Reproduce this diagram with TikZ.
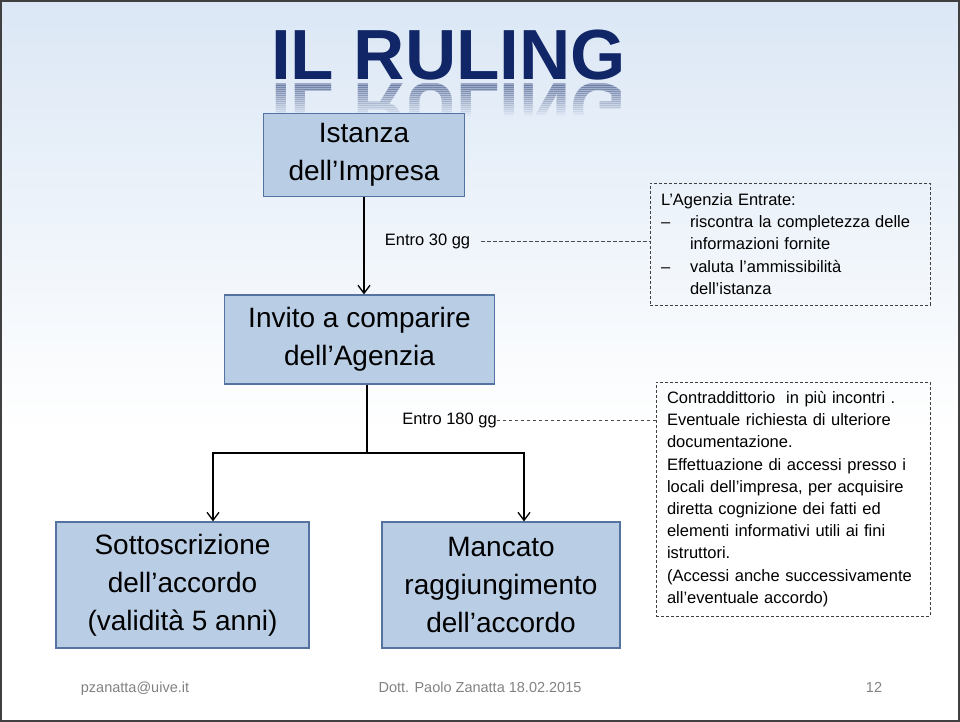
\documentclass[tikz,border=0pt]{standalone}
\usepackage{fontspec}
\setmainfont{Liberation Sans}
\usetikzlibrary{arrows.meta,positioning}
\definecolor{boxfill}{RGB}{185,205,229}
\definecolor{boxline}{RGB}{85,115,160}
\definecolor{titleblue}{RGB}{16,38,102}
\definecolor{bgtop}{RGB}{219,231,245}
\definecolor{footgray}{RGB}{130,130,130}
\tikzset{
    basic/.style      = {rectangle, align=center, inner sep=0pt},
    step entry/.style = {basic, draw=boxline, fill=boxfill, line width=1.2pt, font=\fontsize{28}{38}\selectfont},
    note entry/.style = {basic, draw=black!75, line width=0.9pt, dash pattern=on 3pt off 2pt, align=left, inner xsep=11pt, font=\fontsize{16.5}{22.2}\selectfont},
    gap label/.style  = {basic, font=\fontsize{16.5}{20}\selectfont},
    foot/.style       = {basic, anchor=base, text=footgray, font=\fontsize{14.5}{17}\selectfont},
    headline/.style   = {basic, text=titleblue, font=\fontsize{71}{76}\selectfont\bfseries}
}

\begin{document}
\begin{tikzpicture}[x=1pt, y=-1pt,
	>={Straight Barb[length=8pt,width=12pt]},
	flow/.style={draw, line width=1.3pt, ->},
	gap line/.style={draw=black!70, line width=0.9pt, dash pattern=on 3.5pt off 2.5pt}]
	% slide background
	\shade[top color=bgtop, bottom color=white] (0,0) rectangle (960,430);
	\fill[white] (0,430) rectangle (960,722);
	\draw[black!75, line width=2pt] (1,1) rectangle (959,721);

	% title with its reflection
	\node[headline, anchor=base west] (title) at (271,80) {IL RULING};
	\foreach \i [evaluate=\i as \op using 0.34-0.021*\i] in {0,...,15}{
		\begin{scope}
			\clip (260,84+2*\i) rectangle (640,86+2*\i);
			\node[headline, anchor=base west, yscale=-1, transform shape, text opacity=\op] (mirror\i) at (271,84) {IL RULING};
		\end{scope}
	}

	% steps
	\node[step entry, minimum width=201pt, minimum height=83pt] (istanza) at (364,155) {Istanza\\dell’Impresa};
	\node[step entry, minimum width=270pt, minimum height=89pt] (invito) at (359.5,339.5) {Invito a comparire\\dell’Agenzia};
	\node[step entry, minimum width=253pt, minimum height=126pt] (sottoscrizione) at (182.5,585) {Sottoscrizione\\dell’accordo\\(validità 5 anni)};
	\node[step entry, minimum width=238pt, minimum height=126pt] (mancato) at (501,585) {Mancato\\raggiungimento\\dell’accordo};

	\draw[flow] (istanza) -- (istanza |- invito.north);
	\coordinate (split) at (367,453);
	\draw[line width=1.3pt] (invito.south -| split) -- (split);
	\draw[flow] (split) -| ([xshift=30.5pt]sottoscrizione.north);
	\draw[flow] (split) -| ([xshift=23pt]mancato.north);

	% time limits and notes
	\node[gap label] (entro30) at (427.5,241) {Entro 30 gg};
	\node[gap label] (entro180) at (449.5,420) {Entro 180 gg};
	\node[note entry, text width=258pt, minimum width=280pt, minimum height=122pt] (agenzia) at (790,244) {L’Agenzia Entrate:\\
		\makebox[29pt][l]{--}riscontra la completezza delle\\
		\hspace*{29pt}informazioni fornite\\
		\makebox[29pt][l]{--}valuta l’ammissibilità\\
		\hspace*{29pt}dell’istanza};
	\node[note entry, text width=252pt, minimum width=274pt, minimum height=234pt] (contraddittorio) at (793,499) {Contraddittorio\ \ in più incontri .\\
		Eventuale richiesta di ulteriore\\
		documentazione.\\
		Effettuazione di accessi presso i\\
		locali dell’impresa, per acquisire\\
		diretta cognizione dei fatti ed\\
		elementi informativi utili ai fini\\
		istruttori.\\
		(Accessi anche successivamente\\
		all’eventuale accordo)};
	\draw[gap line] ([xshift=11pt]entro30.east) -- (entro30.east -| agenzia.west);
	\draw[gap line] (entro180.east) -- (entro180.east -| contraddittorio.west);

	% footer
	\node[foot] (mail) at (135,692) {pzanatta@uive.it};
	\node[foot] (autore) at (480,692) {Dott. Paolo Zanatta 18.02.2015};
	\node[foot] (pagina) at (874,692) {12};
\end{tikzpicture}
\end{document}
